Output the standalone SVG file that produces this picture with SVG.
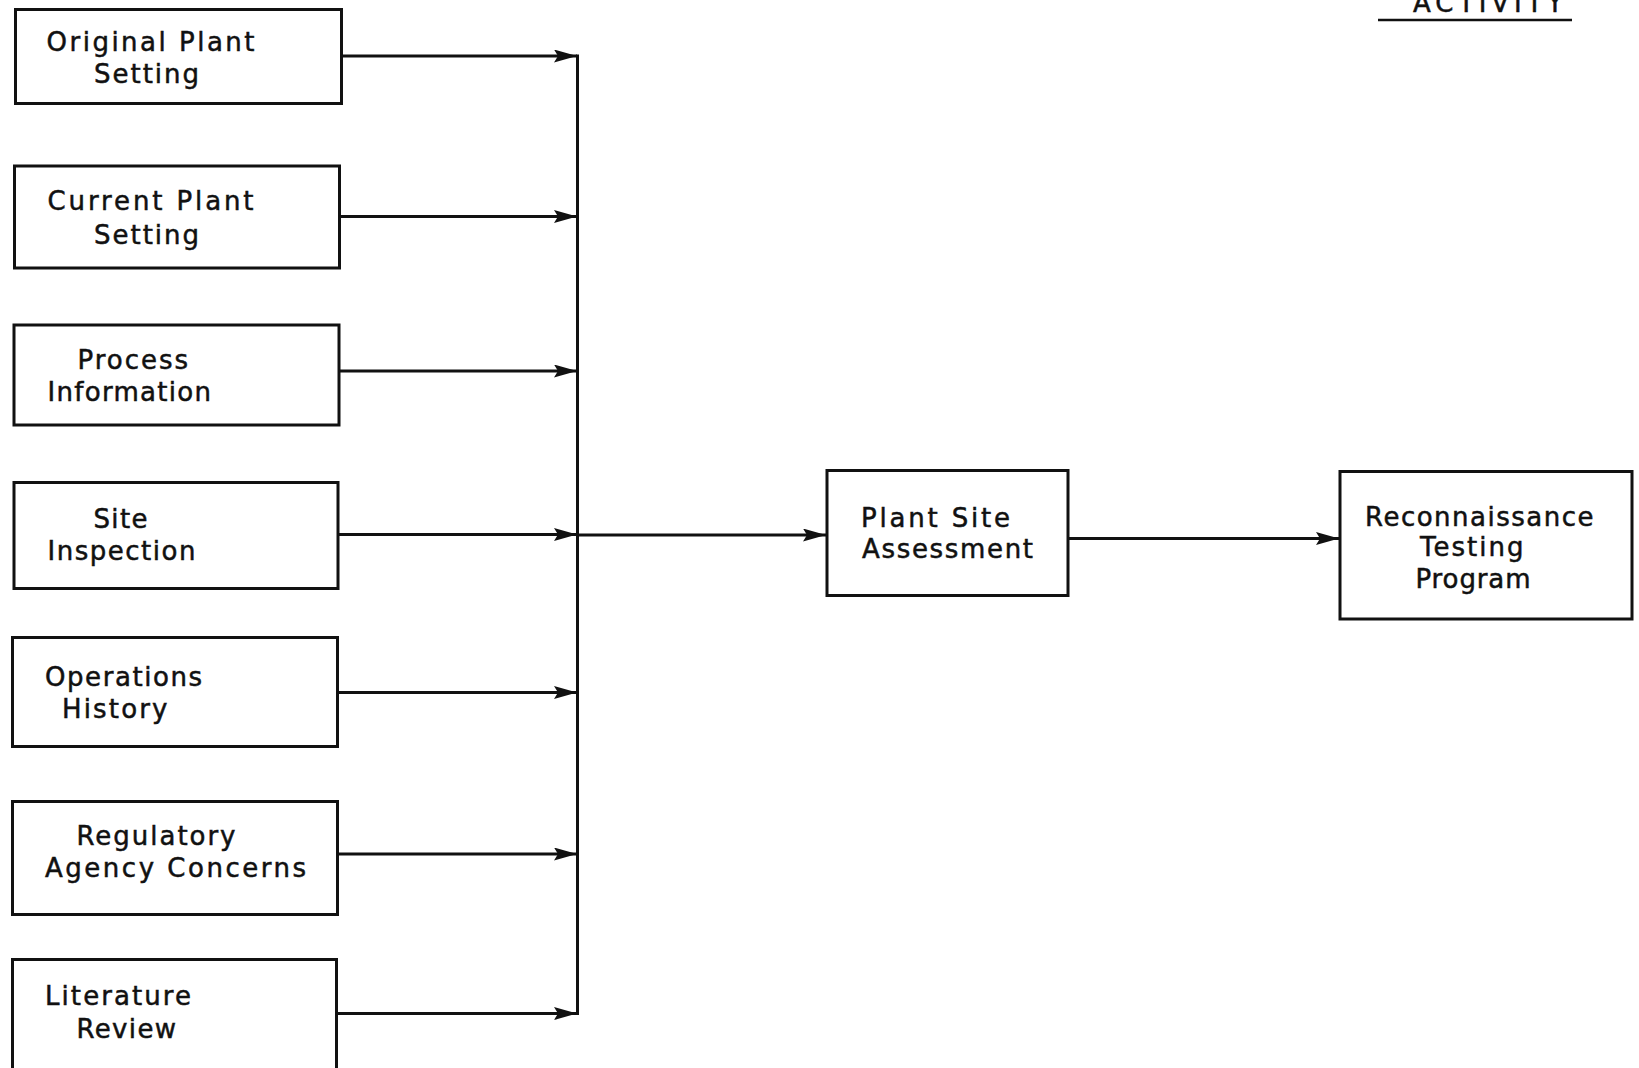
<svg xmlns="http://www.w3.org/2000/svg" width="1639" height="1068" viewBox="0 0 1639 1068">
<style>
.box{fill:#fff;stroke:#111;stroke-width:3}
.lbl{font-family:"DejaVu Sans","Liberation Sans",sans-serif;font-size:26px;fill:#111;stroke:#111;stroke-width:0.5}
.con{fill:none;stroke:#111;stroke-width:3}
</style>
<defs>
<marker id="ah" markerUnits="userSpaceOnUse" markerWidth="25" markerHeight="15" refX="23" refY="6.5" orient="auto">
<path d="M0,0 L23,6.5 L0,13 L4,6.5 z" fill="#111"/>
</marker>
</defs>
<rect width="1639" height="1068" fill="#fff"/>
<g id="header">
<text class="lbl" x="1413" y="12" font-size="24" textLength="150" lengthAdjust="spacing">ACTIVITY</text>
<line x1="1378" y1="20" x2="1572" y2="20" stroke="#111" stroke-width="2.4"/>
</g>
<g id="original-plant-setting">
<rect class="box" x="15.5" y="9.5" width="326" height="94"/>
<text class="lbl" x="46.5" y="51" textLength="208" lengthAdjust="spacing">Original Plant</text>
<text class="lbl" x="94" y="83" textLength="105" lengthAdjust="spacing">Setting</text>
</g>
<g id="current-plant-setting">
<rect class="box" x="14.5" y="166" width="325" height="102"/>
<text class="lbl" x="47.5" y="210" textLength="206" lengthAdjust="spacing">Current Plant</text>
<text class="lbl" x="94" y="243.5" textLength="105" lengthAdjust="spacing">Setting</text>
</g>
<g id="process-information">
<rect class="box" x="14" y="325" width="325" height="100"/>
<text class="lbl" x="77.5" y="369" textLength="110.5" lengthAdjust="spacing">Process</text>
<text class="lbl" x="47.5" y="401" textLength="163.5" lengthAdjust="spacing">Information</text>
</g>
<g id="site-inspection">
<rect class="box" x="14" y="482.5" width="324" height="106"/>
<text class="lbl" x="93.5" y="527.5" textLength="54" lengthAdjust="spacing">Site</text>
<text class="lbl" x="47.5" y="560" textLength="148" lengthAdjust="spacing">Inspection</text>
</g>
<g id="operations-history">
<rect class="box" x="12.5" y="637.5" width="325" height="109"/>
<text class="lbl" x="45" y="686" textLength="157" lengthAdjust="spacing">Operations</text>
<text class="lbl" x="62" y="718" textLength="105.5" lengthAdjust="spacing">History</text>
</g>
<g id="regulatory-agency-concerns">
<rect class="box" x="12.5" y="801.5" width="325" height="113"/>
<text class="lbl" x="76.5" y="845" textLength="159" lengthAdjust="spacing">Regulatory</text>
<text class="lbl" x="45" y="877" textLength="261" lengthAdjust="spacing">Agency Concerns</text>
</g>
<g id="literature-review">
<rect class="box" x="12.5" y="959.5" width="324" height="130"/>
<text class="lbl" x="45" y="1005" textLength="146" lengthAdjust="spacing">Literature</text>
<text class="lbl" x="76.5" y="1038" textLength="99.5" lengthAdjust="spacing">Review</text>
</g>
<g id="plant-site-assessment">
<rect class="box" x="827" y="470.5" width="241" height="125"/>
<text class="lbl" x="861" y="526.5" textLength="149" lengthAdjust="spacing">Plant Site</text>
<text class="lbl" x="862" y="558" textLength="171" lengthAdjust="spacing">Assessment</text>
</g>
<g id="reconnaissance-testing-program">
<rect class="box" x="1340" y="471.5" width="292" height="147.5"/>
<text class="lbl" x="1365" y="526" textLength="228.5" lengthAdjust="spacing">Reconnaissance</text>
<text class="lbl" x="1420" y="556" textLength="103.5" lengthAdjust="spacing">Testing</text>
<text class="lbl" x="1415.5" y="587.5" textLength="115" lengthAdjust="spacing">Program</text>
</g>
<g id="connectors">
<line class="con" x1="577.5" y1="54.5" x2="577.5" y2="1015"/>
<line class="con" x1="341.5" y1="56" x2="577" y2="56" marker-end="url(#ah)"/>
<line class="con" x1="339.5" y1="216.5" x2="577" y2="216.5" marker-end="url(#ah)"/>
<line class="con" x1="339" y1="371" x2="577" y2="371" marker-end="url(#ah)"/>
<line class="con" x1="338" y1="534.5" x2="577" y2="534.5" marker-end="url(#ah)"/>
<line class="con" x1="337.5" y1="692.5" x2="577" y2="692.5" marker-end="url(#ah)"/>
<line class="con" x1="337.5" y1="854" x2="577" y2="854" marker-end="url(#ah)"/>
<line class="con" x1="336.5" y1="1013.5" x2="577" y2="1013.5" marker-end="url(#ah)"/>
<line class="con" x1="577.5" y1="535" x2="826" y2="535" marker-end="url(#ah)"/>
<line class="con" x1="1068" y1="538.5" x2="1339" y2="538.5" marker-end="url(#ah)"/>
</g>
</svg>
